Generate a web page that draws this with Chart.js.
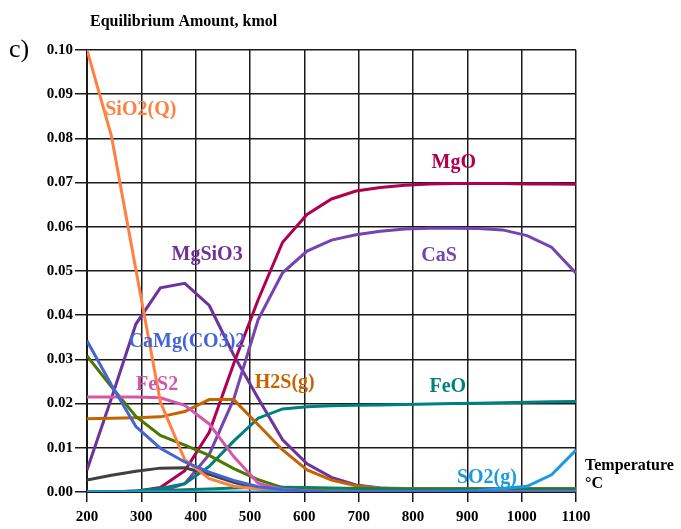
<!DOCTYPE html>
<html>
<head>
<meta charset="utf-8">
<script src="https://cdn.jsdelivr.net/npm/chart.js@4.4.1/dist/chart.umd.min.js"></script>
<style>
  html, body { margin: 0; padding: 0; background: #fff; }
  #wrap { width: 681px; height: 529px; position: relative; }
</style>
</head>
<body>
<div id="wrap"><canvas id="eqChart"></canvas></div>
<script>
// Temperature points, °C
const temps = [200, 245, 290, 335, 380, 425, 470, 515, 560, 605, 650, 695, 740, 785, 830, 875, 920, 965, 1010, 1055, 1100];

// Equilibrium amounts, kmol
const camg = [0.0342, 0.0242, 0.0148, 0.0099, 0.0068, 0.0045, 0.0026, 0.0012, 0.0005, 0.0002, 0, 0, 0, 0, 0, 0, 0, 0, 0, 0, 0];
const sio2 = [0.100, 0.0805, 0.0503, 0.0204, 0.0073, 0.0030, 0.0013, 0.0007, 0.0004, 0.0002, 0.0001, 0, 0, 0, 0, 0, 0, 0, 0, 0, 0];
const mgsio3 = [0.0050, 0.0212, 0.0380, 0.0462, 0.0472, 0.0422, 0.0310, 0.0212, 0.0118, 0.0064, 0.0033, 0.0016, 0.0009, 0.0006, 0.0005, 0.0004, 0.0004, 0.0004, 0.0004, 0.0004, 0.0004];
const mgo = [0, 0, 0.0002, 0.0010, 0.0048, 0.0135, 0.0290, 0.0435, 0.0565, 0.0628, 0.0663, 0.0681, 0.0689, 0.0694, 0.0697, 0.0698, 0.0698, 0.0698, 0.0697, 0.0697, 0.0696];
const cas = [0, 0, 0, 0.0001, 0.0019, 0.0085, 0.0210, 0.0390, 0.0496, 0.0545, 0.0570, 0.0582, 0.0590, 0.0595, 0.0597, 0.0597, 0.0596, 0.0593, 0.0580, 0.0554, 0.0495];
const fes2 = [0.0215, 0.0215, 0.0215, 0.0213, 0.0196, 0.0154, 0.0080, 0.0020, 0.0006, 0.0002, 0.0001, 0, 0, 0, 0, 0, 0, 0, 0, 0, 0];
const h2s = [0.0166, 0.0167, 0.0168, 0.0170, 0.0182, 0.0209, 0.0209, 0.0152, 0.0095, 0.0050, 0.0027, 0.0014, 0.0009, 0.0008, 0.0008, 0.0008, 0.0008, 0.0008, 0.0008, 0.0008, 0.0008];
const feo = [0, 0, 0.0002, 0.0008, 0.0019, 0.0058, 0.0115, 0.0167, 0.0188, 0.0193, 0.0195, 0.0196, 0.0197, 0.0198, 0.0199, 0.0200, 0.0201, 0.0202, 0.0203, 0.0204, 0.0205];
const so2 = [0, 0, 0, 0, 0, 0, 0, 0, 0, 0, 0, 0, 0, 0, 0, 0.0001, 0.0003, 0.0008, 0.0013, 0.0039, 0.0095];
const dolGray = [0.0027, 0.0038, 0.0047, 0.0054, 0.0055, 0.0040, 0.0022, 0.0008, 0.0002, 0, 0, 0, 0, 0, 0, 0, 0, 0, 0, 0, 0];
const olive = [0.0308, 0.0238, 0.0171, 0.0128, 0.0106, 0.0083, 0.0053, 0.0028, 0.0010, 0.0005, 0.0003, 0.0002, 0.0001, 0, 0, 0, 0, 0, 0, 0, 0];
const green = [0, 0, 0.0001, 0.0003, 0.0005, 0.0007, 0.0009, 0.0011, 0.0011, 0.0010, 0.0009, 0.0008, 0.0008, 0.0007, 0.0007, 0.0007, 0.0007, 0.0007, 0.0007, 0.0007, 0.0007];

// Axis ticks
const xTicks = [200, 300, 400, 500, 600, 700, 800, 900, 1000, 1100];
const yTicks = [0, 0.01, 0.02, 0.03, 0.04, 0.05, 0.06, 0.07, 0.08, 0.09, 0.10];

// In-chart species labels (data coordinates)
const speciesLabels = [
  { text: 'SiO2(Q)', t: 299, v: 0.0864, color: '#ff8040' },
  { text: 'MgO', t: 875, v: 0.0744, color: '#b00050' },
  { text: 'MgSiO3', t: 421, v: 0.0536, color: '#6e3299' },
  { text: 'CaS', t: 848, v: 0.0534, color: '#7444b0' },
  { text: 'CaMg(CO3)2', t: 384, v: 0.0339, color: '#4565d5' },
  { text: 'FeS2', t: 329, v: 0.0242, color: '#d358aa' },
  { text: 'H2S(g)', t: 564, v: 0.0248, color: '#c46400' },
  { text: 'FeO', t: 864, v: 0.0239, color: '#007f7f' },
  { text: 'SO2(g)', t: 936, v: 0.0033, color: '#1a9be0' }
];

const serif = "'Liberation Serif', 'Times New Roman', serif";

function series(label, values, color) {
  return {
    label,
    data: temps.map((t, i) => ({ x: t, y: values[i] })),
    borderColor: color,
    backgroundColor: color,
    borderWidth: 3,
    pointRadius: 0,
    tension: 0,
    fill: false
  };
}

// Draws the text labels and axis captions
const textPlugin = {
  id: 'textPlugin',
  afterDatasetsDraw(chart) {
    const { ctx, scales } = chart;
    ctx.save();
    ctx.textBaseline = 'middle';
    ctx.textAlign = 'center';
    ctx.font = 'bold 20px ' + serif;
    speciesLabels.forEach(l => {
      ctx.fillStyle = l.color;
      ctx.fillText(l.text, scales.x.getPixelForValue(l.t), scales.y.getPixelForValue(l.v));
    });

    ctx.fillStyle = '#000';
    ctx.textAlign = 'left';
    ctx.font = 'bold 16px ' + serif;
    ctx.fillText('Equilibrium Amount, kmol', 90, 22);
    ctx.fillText('Temperature', 585, 466);
    ctx.fillText('°C', 585, 484);

    ctx.font = '26px ' + serif;
    ctx.fillText('c)', 9, 50);
    ctx.restore();
  }
};

const ctx = document.getElementById('eqChart');

new Chart(ctx, {
  type: 'line',
  data: {
    datasets: [
      series('CaMg(CO3)2', camg, '#4565d5'),
      series('SO2(g)', so2, '#1a9be0'),
      series('SiO2(Q)', sio2, '#ff8040'),
      series('FeS2', fes2, '#d358aa'),
      series('green', green, '#0e8060'),
      series('olive', olive, '#4a7800'),
      series('gray', dolGray, '#404040'),
      series('H2S(g)', h2s, '#c46400'),
      series('FeO', feo, '#007f7f'),
      series('MgO', mgo, '#b00050'),
      series('CaS', cas, '#7444b0'),
      series('MgSiO3', mgsio3, '#6e3299')
    ]
  },
  options: {
    responsive: true,
    maintainAspectRatio: false,
    animation: false,
    events: [],
    layout: {
      padding: { left: 0, top: 50, right: 105, bottom: 0 }
    },
    plugins: {
      legend: { display: false },
      tooltip: { enabled: false }
    },
    scales: {
      x: {
        type: 'linear',
        min: 200,
        max: 1100,
        afterBuildTicks: axis => { axis.ticks = xTicks.map(v => ({ value: v })); },
        afterFit: axis => { axis.height = 37; },
        grid: {
          color: '#1a1a1a',
          lineWidth: 1.5,
          tickLength: 10
        },
        border: { color: '#1a1a1a', width: 2 },
        ticks: {
          color: '#000',
          padding: 6,
          maxRotation: 0,
          callback: v => String(v),
          font: { family: serif, size: 15, weight: 'bold' }
        }
      },
      y: {
        type: 'linear',
        min: 0,
        max: 0.10,
        afterBuildTicks: axis => { axis.ticks = yTicks.map(v => ({ value: v })); },
        afterFit: axis => { axis.width = 87; },
        grid: {
          color: '#1a1a1a',
          lineWidth: 1.5,
          tickLength: 12
        },
        border: { color: '#1a1a1a', width: 2 },
        ticks: {
          color: '#000',
          padding: 2,
          callback: v => v.toFixed(2),
          font: { family: serif, size: 15, weight: 'bold' }
        }
      }
    }
  },
  plugins: [textPlugin]
});
</script>
</body>
</html>
